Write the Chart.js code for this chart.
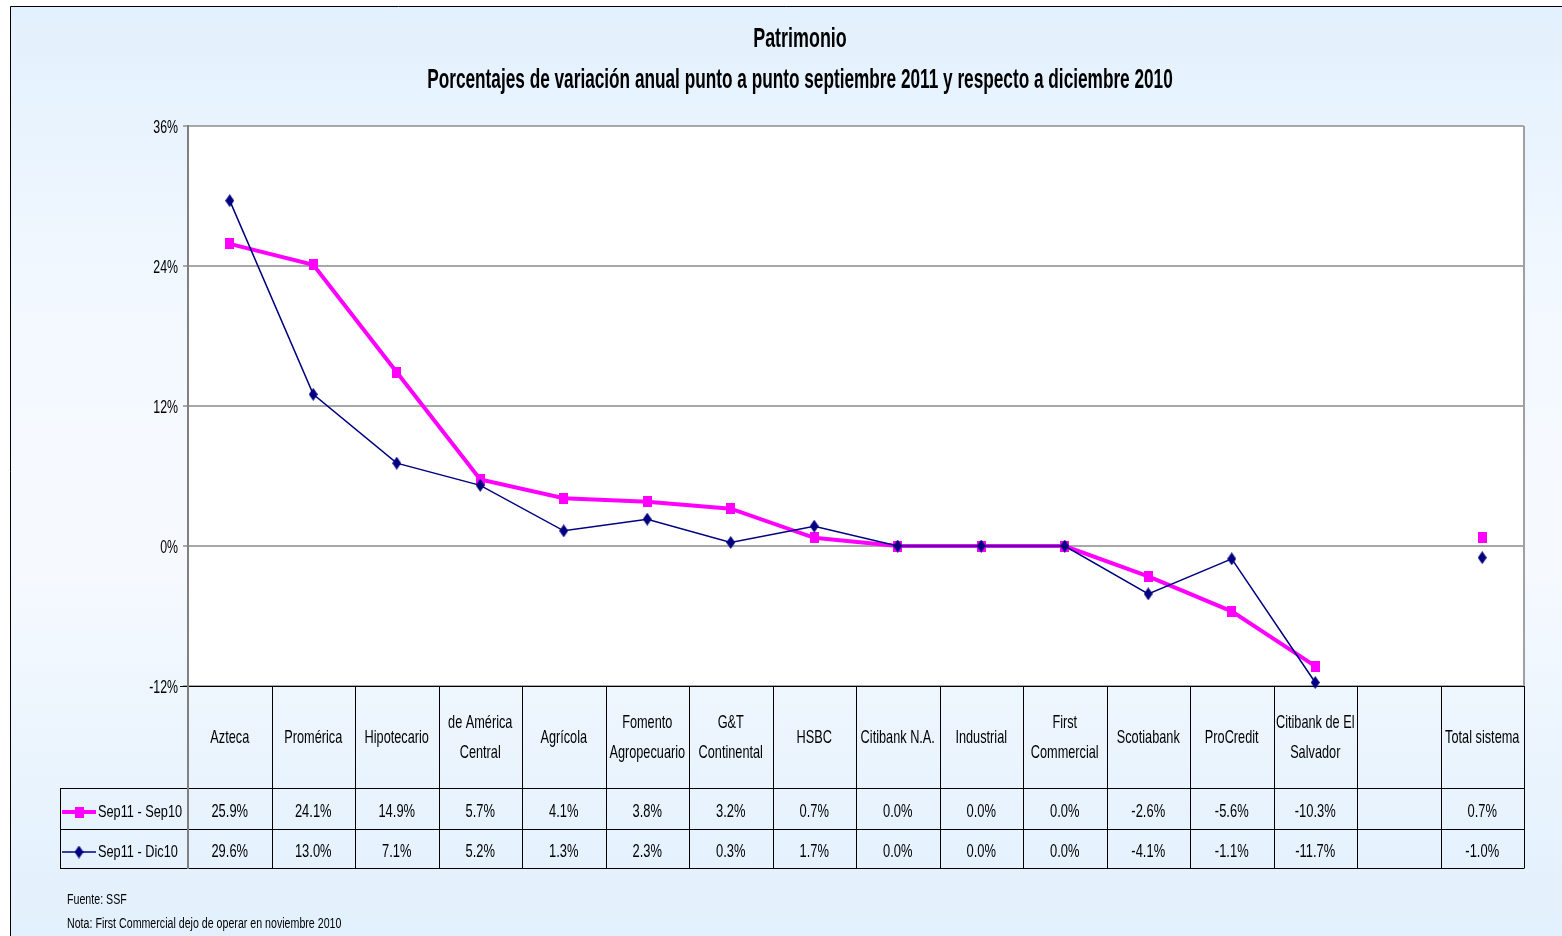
<!DOCTYPE html>
<html><head><meta charset="utf-8">
<script src="https://cdn.jsdelivr.net/npm/chart.js@4"></script>
<style>html,body{margin:0;padding:0;background:#fff;overflow:hidden}#wrap{width:1562px;height:936px;position:relative}</style>
</head><body><div id="wrap"><canvas id="c" width="1562" height="936"></canvas></div>
<script>
const categories = [['Azteca'],['Promérica'],['Hipotecario'],['de América','Central'],['Agrícola'],['Fomento','Agropecuario'],['G&T','Continental'],['HSBC'],['Citibank N.A.'],['Industrial'],['First','Commercial'],['Scotiabank'],['ProCredit'],['Citibank de El','Salvador'],[''],['Total sistema']];
const seriesNames = ['Sep11 - Sep10','Sep11 - Dic10'];
const sepSep = [25.9,24.1,14.9,5.7,4.1,3.8,3.2,0.7,0.0,0.0,0.0,-2.6,-5.6,-10.3,null,0.7];
const sepDic = [29.6,13.0,7.1,5.2,1.3,2.3,0.3,1.7,0.0,0.0,0.0,-4.1,-1.1,-11.7,null,-1.0];
const yTicks = [-12,0,12,24,36];
const titleText = 'Patrimonio';
const subtitleText = 'Porcentajes de variación anual punto a punto septiembre 2011 y respecto a diciembre 2010';
const footNotes = ['Fuente: SSF','Nota: First Commercial dejo de operar en noviembre 2010'];

const FONT = "'Liberation Sans',Arial,sans-serif";
const PINK = '#ff00ff', NAVY = '#000080';

function nText(ctx,text,x,y,size,bold,align,sx){
  ctx.save();
  ctx.font=(bold?'bold ':'')+size+'px '+FONT;
  ctx.textBaseline='alphabetic';ctx.textAlign=align||'center';
  ctx.fillStyle='#000';
  ctx.translate(x,y);ctx.scale(sx,1);
  ctx.fillText(text,0,0);
  ctx.restore();
}

function makeSquare(){const c=document.createElement('canvas');c.width=9;c.height=11;const g=c.getContext('2d');g.fillStyle=PINK;g.fillRect(0,0,9,11);return c;}
function makeDiamond(){const c=document.createElement('canvas');c.width=9;c.height=13;const g=c.getContext('2d');g.fillStyle=NAVY;g.beginPath();g.moveTo(4.5,0);g.lineTo(9,6.5);g.lineTo(4.5,13);g.lineTo(0,6.5);g.closePath();g.fill();return c;}
const sq = makeSquare(), dia = makeDiamond();

const bgPlugin = {
  id:'bg',
  beforeDraw(chart){
    const ctx=chart.ctx, ca=chart.chartArea;
    ctx.save();
    ctx.fillStyle='#fff';ctx.fillRect(0,0,chart.width,chart.height);
    const gr=ctx.createLinearGradient(0,6,0,936);
    gr.addColorStop(0,'#e2f0fd');gr.addColorStop(0.35,'#f4f9ff');gr.addColorStop(0.6,'#f6faff');gr.addColorStop(0.85,'#e8f3fd');gr.addColorStop(1,'#e2f0fd');
    ctx.fillStyle=gr;ctx.fillRect(10,6,chart.width-10,chart.height-6);
    ctx.strokeStyle='#000';ctx.lineWidth=1;
    ctx.beginPath();ctx.moveTo(10.5,936);ctx.lineTo(10.5,6.5);ctx.lineTo(1562,6.5);ctx.stroke();
    ctx.fillStyle='#fff';ctx.fillRect(ca.left,ca.top,ca.right-ca.left,ca.bottom-ca.top);
    ctx.restore();
    nText(ctx,titleText,800,47,28,true,'center',0.64);
    nText(ctx,subtitleText,800,88,28,true,'center',0.615);
  }
};

const tablePlugin = {
  id:'dataTable',
  beforeDatasetsDraw(chart){
    const ctx=chart.ctx, ca=chart.chartArea, xs=chart.scales.x, ysc=chart.scales.y;
    const n=categories.length;
    const band=(ca.right-ca.left)/n;
    const top=ca.bottom, hB=top+102, r1=hB+41, r2=r1+39, legL=60;
    yTicks.forEach(v=>nText(ctx,v+'%',178,ysc.getPixelForValue(v)+6.8,19,false,'right',0.65));
    ctx.save();
    ctx.strokeStyle='#a0a0a0';ctx.lineWidth=2;
    ctx.beginPath();ctx.moveTo(ca.right,ca.top);ctx.lineTo(ca.right,ca.bottom);ctx.stroke();
    ctx.strokeStyle='#000';ctx.lineWidth=1;
    ctx.beginPath();
    ctx.moveTo(ca.left-8,top+0.5);ctx.lineTo(ca.right,top+0.5);
    [hB,r1,r2].forEach(y=>{ctx.moveTo(legL,y+0.5);ctx.lineTo(ca.right,y+0.5);});
    for(let i=1;i<=n;i++){const x=Math.round(ca.left+i*band)+0.5;ctx.moveTo(x,top);ctx.lineTo(x,r2+0.5);}
    ctx.moveTo(legL+0.5,hB);ctx.lineTo(legL+0.5,r2+0.5);
    ctx.stroke();
    ctx.strokeStyle='#808080';ctx.lineWidth=2;
    ctx.beginPath();ctx.moveTo(ca.left,top);ctx.lineTo(ca.left,r2+1);ctx.stroke();
    ctx.restore();
    categories.forEach((lines,i)=>{
      const cx=xs.getPixelForValue(i);
      if(lines.length===1){nText(ctx,lines[0],cx,top+57,19,false,'center',0.67);}
      else{nText(ctx,lines[0],cx,top+42,19,false,'center',0.67);nText(ctx,lines[1],cx,top+72,19,false,'center',0.67);}
    });
    const rows=[sepSep,sepDic];
    const ys=[hB+29,r1+28];
    rows.forEach((arr,k)=>{
      arr.forEach((v,i)=>{ if(v!==null) nText(ctx,v.toFixed(1)+'%',xs.getPixelForValue(i),ys[k],19,false,'center',0.68); });
    });
    const ly=[hB+24,r1+23];
    [[PINK,4,sq],[NAVY,1.5,dia]].forEach(([col,lw,img],k)=>{
      const y=ly[k];
      ctx.save();
      ctx.strokeStyle=col;ctx.lineWidth=lw;
      ctx.beginPath();ctx.moveTo(62,y);ctx.lineTo(96,y);ctx.stroke();
      ctx.drawImage(img,79-img.width/2,y-img.height/2);
      ctx.restore();
      nText(ctx,seriesNames[k],98,ys[k],17,false,'left',0.75);
    });
    nText(ctx,footNotes[0],67,904,14,false,'left',0.76);
    nText(ctx,footNotes[1],67,928,14,false,'left',0.76);
  }
};

new Chart(document.getElementById('c'),{
  type:'line',
  data:{
    labels:categories.map(l=>l.join(' ')),
    datasets:[
      {label:seriesNames[0],data:sepSep,borderColor:PINK,backgroundColor:PINK,borderWidth:4,pointStyle:sq,pointRadius:5,pointHoverRadius:5,spanGaps:false,tension:0,order:1,clip:false},
      {label:seriesNames[1],data:sepDic,borderColor:NAVY,backgroundColor:NAVY,borderWidth:1.5,pointStyle:dia,pointRadius:5,pointHoverRadius:5,spanGaps:false,tension:0,order:0,clip:false}
    ]
  },
  options:{
    responsive:false,animation:false,devicePixelRatio:1,
    layout:{padding:{left:0,right:38,top:126,bottom:250}},
    plugins:{legend:{display:false},tooltip:{enabled:false},title:{display:false},subtitle:{display:false}},
    scales:{
      x:{type:'category',display:false,offset:true},
      y:{min:yTicks[0],max:yTicks[yTicks.length-1],
        afterBuildTicks(s){s.ticks=yTicks.map(v=>({value:v}));},
        afterFit(s){s.width=188;},
        ticks:{display:false},
        grid:{color:'#a8a8a8',lineWidth:2,tickLength:5,drawTicks:true},
        border:{color:'#808080',width:2}
      }
    }
  },
  plugins:[bgPlugin,tablePlugin]
});
</script></body></html>
